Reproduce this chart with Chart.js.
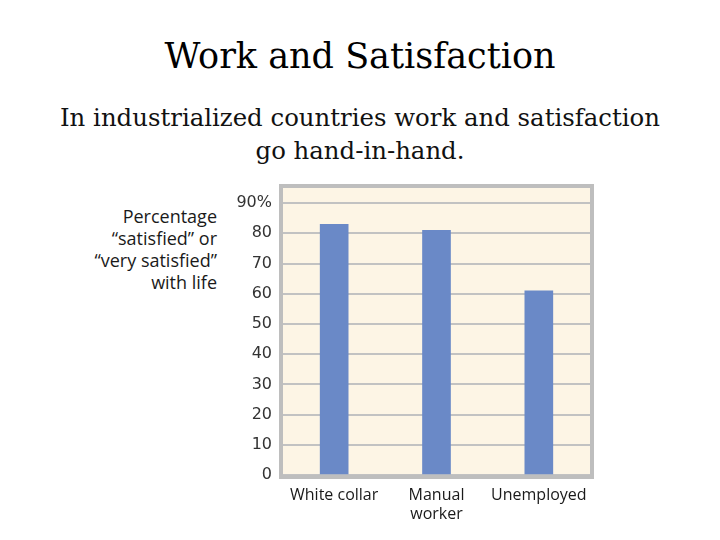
<!DOCTYPE html>
<html>
<head>
<meta charset="utf-8">
<script src="https://cdn.jsdelivr.net/npm/chart.js@4"></script>
<style>
  html, body { margin: 0; padding: 0; background: #fff; }
  #page { position: relative; width: 720px; height: 540px; overflow: hidden; }
  #title {
    position: absolute; left: 0; top: 36px; width: 720px; text-align: center;
    font-family: "DejaVu Serif", serif; font-size: 35px; color: #000;
  }
  #subtitle {
    position: absolute; left: 0; top: 101px; width: 720px; text-align: center;
    font-family: "DejaVu Serif", serif; font-size: 24.4px; line-height: 33px; color: #111;
  }
  #ylabel {
    position: absolute; right: 503px; top: 205px; text-align: right;
    font-family: "Open Sans", sans-serif; font-size: 18px; line-height: 22px; color: #1a1a1a;
  }
  canvas { position: absolute; left: 0; top: 0; }
</style>
</head>
<body>
<div id="page">
  <div id="title">Work and Satisfaction</div>
  <div id="subtitle">In industrialized countries work and satisfaction<br>go hand-in-hand.</div>
  <div id="ylabel">Percentage<br>“satisfied” or<br>“very satisfied”<br>with life</div>
  <canvas id="chartCanvas" width="720" height="540"></canvas>
</div>
<script>
// 資料
const categories = ['White collar', ['Manual', 'worker'], 'Unemployed'];
const satisfied = [83, 81, 61];
const tickValues = [0, 10, 20, 30, 40, 50, 60, 70, 80, 90];

// 背景與外框
const plotFrame = {
    id: 'plotFrame',
    beforeDraw(chart) {
        const { ctx, chartArea: a } = chart;
        ctx.save();
        ctx.fillStyle = '#fdf5e5';
        ctx.fillRect(a.left, a.top, a.right - a.left, a.bottom - a.top);
        ctx.restore();
    },
    afterDraw(chart) {
        const { ctx, chartArea: a } = chart;
        ctx.save();
        ctx.strokeStyle = '#bebebe';
        ctx.lineWidth = 4;
        ctx.strokeRect(a.left - 2, a.top - 2, a.right - a.left + 4, a.bottom - a.top + 4);
        ctx.restore();
    }
};

const ctx = document.getElementById('chartCanvas').getContext('2d');
new Chart(ctx, {
    type: 'bar',
    data: {
        labels: categories,
        datasets: [{
            data: satisfied,
            backgroundColor: '#6a89c7',
            borderWidth: 0,
            barThickness: 28
        }]
    },
    options: {
        responsive: false,
        animation: false,
        layout: { padding: { left: 228, right: 130, top: 188, bottom: 15 } },
        plugins: { legend: { display: false }, tooltip: { enabled: false } },
        scales: {
            x: {
                grid: { display: false, drawTicks: false },
                border: { display: false },
                ticks: {
                    color: '#1a1a1a',
                    padding: 11,
                    maxRotation: 0,
                    font: { family: 'Open Sans', size: 16, lineHeight: 1.2 }
                },
                afterFit(scale) { scale.height = 50; }
            },
            y: {
                min: 0,
                max: 95,
                grid: { color: '#c2c2c2', lineWidth: 2, drawTicks: false },
                border: { display: false },
                afterBuildTicks(scale) {
                    scale.ticks = tickValues.map(v => ({ value: v }));
                },
                ticks: {
                    color: '#333',
                    padding: 11,
                    font: { family: 'DejaVu Sans', size: 16 },
                    callback: v => (v === 90 ? v + '%' : v)
                },
                afterFit(scale) { scale.width = 55; }
            }
        }
    },
    plugins: [plotFrame]
});
</script>
</body>
</html>
